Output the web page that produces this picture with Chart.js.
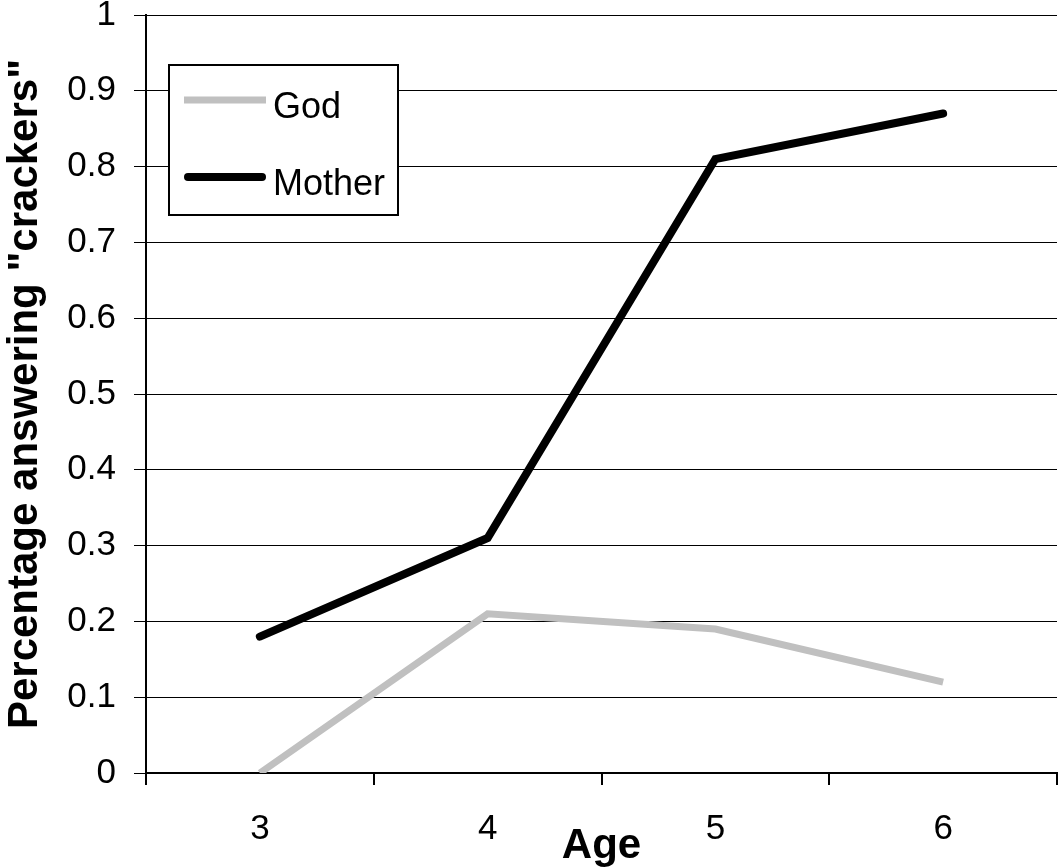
<!DOCTYPE html>
<html>
<head>
<meta charset="utf-8">
<script src="https://cdn.jsdelivr.net/npm/chart.js@4.4.0/dist/chart.umd.min.js"></script>
<style>
  html, body { margin: 0; padding: 0; background: #fff; }
  #wrap { width: 1060px; height: 867px; }
</style>
</head>
<body>
<div id="wrap"><canvas id="chart" width="1060" height="867"></canvas></div>
<script>
const ages = ['3', '4', '5', '6'];
const godValues = [0, 0.21, 0.19, 0.12];
const motherValues = [0.18, 0.31, 0.81, 0.87];
const yTicks = [0, 0.1, 0.2, 0.3, 0.4, 0.5, 0.6, 0.7, 0.8, 0.9, 1];

const FONT = 'Liberation Sans, Arial, Helvetica, sans-serif';

// legend drawn in a box inside the plot, like the original
const boxLegend = {
  id: 'boxLegend',
  afterDatasetsDraw(chart) {
    const c = chart.ctx;
    const bx = 169, by = 65, bw = 229, bh = 150;
    c.save();
    c.fillStyle = '#fff';
    c.fillRect(bx, by, bw, bh);
    c.strokeStyle = '#000';
    c.lineWidth = 2;
    c.strokeRect(bx, by, bw, bh);
    c.font = '36px ' + FONT;
    c.textBaseline = 'alphabetic';
    chart.data.datasets.forEach(function(ds, i) {
      const yy = 100 + i * 77;
      c.strokeStyle = ds.borderColor;
      c.lineWidth = ds.borderWidth;
      c.lineCap = ds.borderCapStyle;
      c.beginPath();
      c.moveTo(i == 1 ? 188 : 184, yy);
      c.lineTo(i == 1 ? 262 : 266, yy);
      c.stroke();
      c.fillStyle = '#000';
      c.fillText(ds.label, 273, yy + 18);
    });
    c.restore();
  }
};

const ctx = document.getElementById('chart').getContext('2d');
const chart = new Chart(ctx, {
  type: 'line',
  data: {
    labels: ages,
    datasets: [
      { label: 'God', data: godValues, borderColor: '#c0c0c0', borderWidth: 7, borderCapStyle: 'butt' },
      { label: 'Mother', data: motherValues, borderColor: '#000000', borderWidth: 8, borderCapStyle: 'round' }
    ]
  },
  options: {
    responsive: false,
    animation: false,
    layout: { padding: { top: 15, right: 3, left: 0, bottom: 0 } },
    elements: {
      point: { radius: 0 },
      line: { tension: 0, borderJoinStyle: 'miter' }
    },
    plugins: {
      legend: { display: false },
      tooltip: { enabled: false }
    },
    scales: {
      x: {
        offset: true,
        grid: { offset: true, drawOnChartArea: false, color: '#000', lineWidth: 2, tickLength: 12 },
        border: { color: '#000', width: 2 },
        ticks: { color: '#000', font: { family: FONT, size: 35 }, padding: 23, maxRotation: 0 },
        title: { display: true, text: 'Age', color: '#000', font: { family: FONT, size: 42, weight: 'bold' }, padding: { top: 0, bottom: -5 } },
        afterFit(scale) {
          scale.height = 94;
          scale.paddingLeft = 0;
          scale.paddingRight = 0;
        }
      },
      y: {
        min: 0,
        max: 1,
        afterBuildTicks(scale) { scale.ticks = yTicks.map(v => ({ value: v })); },
        grid: { color: '#000', lineWidth: 1, tickLength: 12 },
        border: { color: '#000', width: 2 },
        ticks: {
          color: '#000',
          font: { family: FONT, size: 35 },
          padding: 18,
          callback: v => String(Math.round(v * 10) / 10)
        },
        title: { display: true, text: 'Percentage answering "crackers"', color: '#000', font: { family: FONT, size: 42, weight: 'bold' }, padding: { top: 0, bottom: 0 } },
        afterFit(scale) {
          scale.width = 146;
          scale.paddingTop = 0;
          scale.paddingBottom = 0;
        }
      }
    }
  },
  plugins: [boxLegend]
});
</script>
</body>
</html>
